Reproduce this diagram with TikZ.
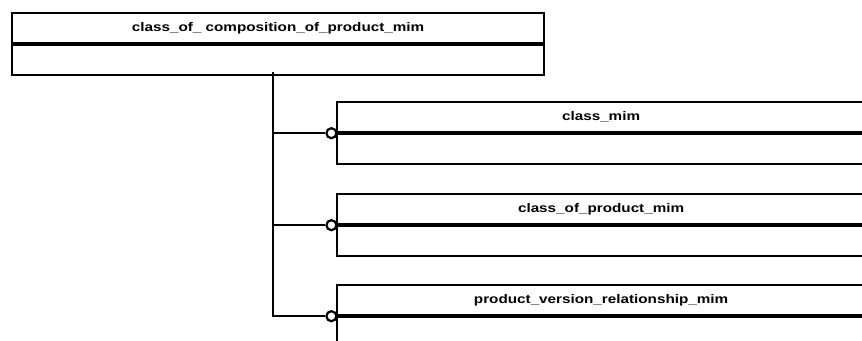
\documentclass[tikz,border=0pt]{standalone}
\usepackage{fontspec}
\usetikzlibrary{positioning}
\newfontfamily\mimfont{Liberation Sans}[FakeStretch=1.22]

\begin{document}
\begin{tikzpicture}[
  x=1pt, y=-1pt,
  hdr/.style={draw, line width=2.2pt, anchor=north west, inner sep=0pt,
              minimum height=30pt, font=\mimfont\bfseries\fontsize{12.5}{14}\selectfont},
  bdy/.style={draw, line width=2.2pt, inner sep=0pt, minimum height=30pt},
  divider/.style={line width=3pt},
  link/.style={line width=2pt},
  ring/.style={circle, draw, fill=white, line width=2.2pt, minimum size=10pt, inner sep=0pt}
]
  \useasboundingbox (0,0) rectangle (862,340);
  \clip (0,0) rectangle (862,340);

  % Parent entity.
  \node[hdr, minimum width=532pt] (top-hd) at (11,12) {class\_of\_ composition\_of\_product\_mim};
  \node[bdy, minimum width=532pt, below=0pt of top-hd] (top-bd) {};
  \draw[divider] (top-hd.south west) -- (top-hd.south east);

  % Child entities.
  \node[hdr, minimum width=528pt] (cls-hd) at (336,101) {class\_mim};
  \node[bdy, minimum width=528pt, below=0pt of cls-hd] (cls-bd) {};
  \draw[divider] (cls-hd.south west) -- (cls-hd.south east);

  \node[hdr, minimum width=528pt] (cop-hd) at (336,193) {class\_of\_product\_mim};
  \node[bdy, minimum width=528pt, below=0pt of cop-hd] (cop-bd) {};
  \draw[divider] (cop-hd.south west) -- (cop-hd.south east);

  \node[hdr, minimum width=528pt] (pvr-hd) at (336,284) {product\_version\_relationship\_mim};
  \node[bdy, minimum width=528pt, below=0pt of pvr-hd] (pvr-bd) {};
  \draw[divider] (pvr-hd.south west) -- (pvr-hd.south east);

  % Rings on the children.
  \node[ring, left=-1.5pt of cls-hd.south west] (ring1) {};
  \node[ring, left=-1.5pt of cop-hd.south west] (ring2) {};
  \node[ring, left=-1.5pt of pvr-hd.south west] (ring3) {};

  % Tree lines.
  \coordinate (spine) at (273,72);
  \draw[link] (spine) |- (ring3.west);
  \draw[link] (spine |- ring1) -- (ring1.west);
  \draw[link] (spine |- ring2) -- (ring2.west);
\end{tikzpicture}
\end{document}
